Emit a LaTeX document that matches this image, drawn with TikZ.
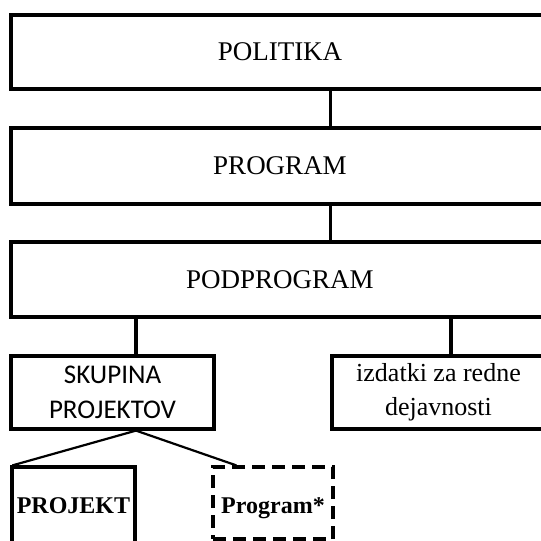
\documentclass[tikz,border=0pt]{standalone}
\usepackage{fontspec}
\setmainfont{Liberation Serif}
\newfontfamily\calibrifont{Carlito}
\usepackage{tikz}
\colorlet{boxline}{black}

\begin{document}
\begin{tikzpicture}[x=1pt, y=-1pt, line width=3.2pt,
    levelbox/.style={draw=boxline, line width=3.2pt, minimum width=538pt, minimum height=74pt, inner sep=0pt, font=\fontsize{27}{32}\selectfont},
    leafbox/.style={draw=boxline, line width=3.2pt, inner sep=0pt, align=center}]
    \useasboundingbox (0,0) rectangle (541,541);
    \clip (0,0) rectangle (541,541);

    \node[levelbox] (politika) at (280, 52) {POLITIKA};
    \node[levelbox, minimum height=76pt] (program) at (280, 166) {PROGRAM};
    \node[levelbox, minimum height=75pt] (podprogram) at (280, 279.5) {PODPROGRAM};

    \node[leafbox, minimum width=203pt, minimum height=73pt, font=\calibrifont\fontsize{27}{35}\selectfont] (skupina) at (112.5, 392.5) {SKUPINA\\PROJEKTOV};
    \node[leafbox, minimum width=213pt, minimum height=73pt, font=\fontsize{26}{34}\selectfont] (izdatki) at (438.5, 392.5) {izdatki za redne\\dejavnosti};

    \node[leafbox, minimum width=123pt, minimum height=76pt, text height=16pt, text depth=0pt, font=\bfseries\fontsize{24}{28}\selectfont] (projekt) at (73.5, 505) {PROJEKT};
    \node[leafbox, dash pattern=on 13pt off 7pt, minimum width=120pt, minimum height=72pt, text height=20pt, text depth=0pt, font=\bfseries\fontsize{24}{28}\selectfont] (progzvezda) at (273, 503) {Program*};

    \coordinate (leftx) at (136, 0);
    \coordinate (rightx) at (451, 0);

    \draw (politika.south -| izdatki.west) -- (program.north -| izdatki.west);
    \draw (program.south -| izdatki.west) -- (podprogram.north -| izdatki.west);
    \draw (podprogram.south -| leftx) -- (skupina.north -| leftx);
    \draw (podprogram.south -| rightx) -- (izdatki.north -| rightx);

    \draw[line width=2.2pt] (skupina.south -| leftx) -- ([xshift=2pt]projekt.north west);
    \draw[line width=2.2pt] (skupina.south -| leftx) -- ([xshift=25pt]progzvezda.north west);
\end{tikzpicture}
\end{document}
